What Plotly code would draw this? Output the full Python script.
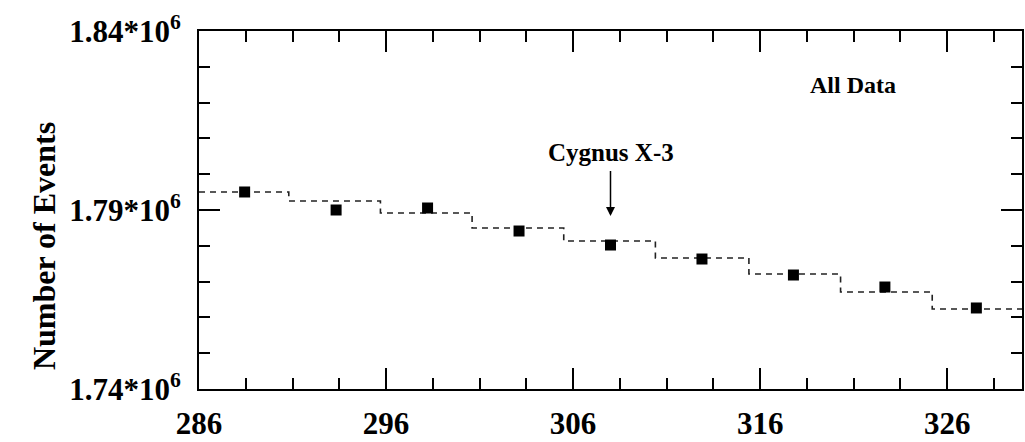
import plotly.graph_objects as go

# ---- data ----
bin_centers = [288.44, 293.33, 298.22, 303.11, 308.0, 312.89, 317.78, 322.67, 327.56]
event_counts = [1795030, 1790000, 1790560, 1784130, 1780220, 1776310, 1771840, 1768490, 1762630]

bin_edges = [286.0, 290.8, 295.7, 300.6, 305.5, 310.4, 315.4, 320.3, 325.2, 330.0]
step_levels = [1795030, 1792510, 1789160, 1784970, 1781340, 1776590, 1772120, 1767090, 1762350]

x_tickvals = [286, 296, 306, 316, 326]
x_ticktext = ["286", "296", "306", "316", "326"]
y_tickvals = [1740000, 1790000, 1840000]
y_ticktext = ["1.74*10<sup>6</sup>", "1.79*10<sup>6</sup>", "1.84*10<sup>6</sup>"]

source_x = 308.0
source_label = "Cygnus X-3"
panel_label = "All Data"
y_title = "Number of Events"

FONT = "Liberation Serif, Times New Roman, serif"

fig = go.Figure()

# stepped (expected) histogram, dashed
fig.add_trace(go.Scatter(
    x=bin_edges,
    y=step_levels + [step_levels[-1]],
    mode="lines",
    line=dict(shape="hv", color="#222222", width=1.6, dash="6px,5px"),
    hoverinfo="skip",
    showlegend=False,
))

# measured counts
fig.add_trace(go.Scatter(
    x=bin_centers,
    y=event_counts,
    mode="markers",
    marker=dict(symbol="square", size=11, color="black"),
    showlegend=False,
))

fig.update_layout(
    width=1025, height=442,
    margin=dict(l=199, r=3, t=31, b=53),
    paper_bgcolor="white",
    plot_bgcolor="white",
    font=dict(family=FONT, color="black"),
    xaxis=dict(
        range=[286, 330],
        tickmode="array", tickvals=x_tickvals, ticktext=x_ticktext,
        ticks="inside", ticklen=21, tickwidth=1.5, tickcolor="black",
        minor=dict(ticks="inside", ticklen=11, tickwidth=1.5, tickcolor="black",
                   tick0=286, dtick=2.5, showgrid=False),
        showline=True, linecolor="black", linewidth=2, mirror="ticks",
        showgrid=False, zeroline=False, automargin=False,
        tickfont=dict(family=FONT, size=31, weight="bold", color="black"),
        ticklabelstandoff=6,
    ),
    yaxis=dict(
        range=[1740000, 1840000],
        tickmode="array", tickvals=y_tickvals, ticktext=y_ticktext,
        ticks="inside", ticklen=21, tickwidth=1.5, tickcolor="black",
        minor=dict(ticks="inside", ticklen=11, tickwidth=1.5, tickcolor="black",
                   tick0=1740000, dtick=10000, showgrid=False),
        showline=True, linecolor="black", linewidth=2, mirror="ticks",
        showgrid=False, zeroline=False, automargin=False,
        tickfont=dict(family=FONT, size=31, weight="bold", color="black"),
        ticklabelstandoff=10,
    ),
    annotations=[
        dict(text=y_title, xref="paper", yref="paper", x=-0.188, y=0.40,
             xanchor="center", yanchor="middle", textangle=-90, showarrow=False,
             font=dict(family=FONT, size=32, weight="bold", color="black")),
        dict(text=panel_label, xref="x", yref="y", x=320.97, y=1824900,
             xanchor="center", yanchor="middle", showarrow=False,
             font=dict(family=FONT, size=24, weight="bold", color="black")),
        dict(text=source_label, xref="x", yref="y", x=source_x, y=1788300,
             ax=0, ay=-64, showarrow=True, arrowhead=2, arrowsize=1.2,
             arrowwidth=1.5, arrowcolor="black", startstandoff=4,
             font=dict(family=FONT, size=25, weight="bold", color="black")),
    ],
)

fig.write_html("out.html")
